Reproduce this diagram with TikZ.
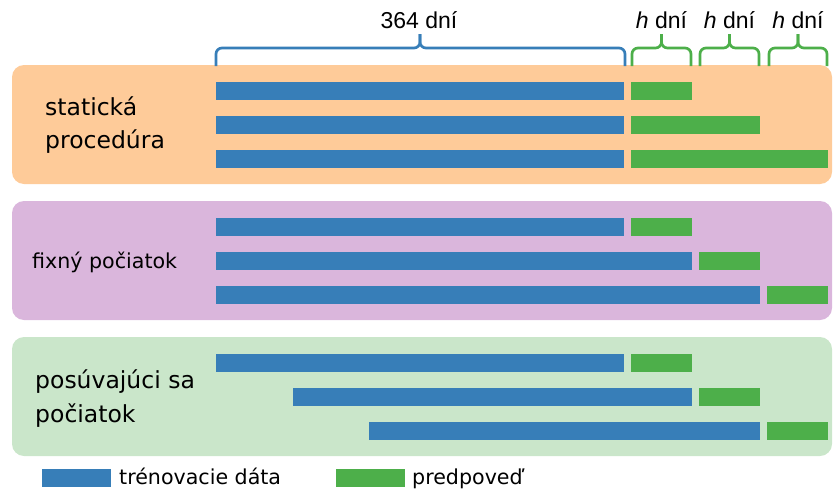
\documentclass[tikz,border=0pt]{standalone}
\usepackage{fontspec}
\setmainfont{DejaVu Sans}
\newfontfamily\arialf{Liberation Sans}
\definecolor{trainc}{HTML}{377EB8}
\definecolor{predc}{HTML}{4DAF4A}
\definecolor{panelo}{HTML}{FECB99}
\definecolor{panelp}{HTML}{DAB6DC}
\definecolor{panelg}{HTML}{CAE6CA}
\begin{document}
\begin{tikzpicture}[x=1pt,y=-1pt,
  panel/.style={rounded corners=12pt},
  train/.style={fill=trainc},
  pred/.style={fill=predc},
  lbl/.style={anchor=base west,inner sep=0pt,font=\fontsize{23.5}{28}\selectfont},
  lblsmall/.style={anchor=base west,inner sep=0pt,font=\fontsize{20.6}{24}\selectfont},
  toplbl/.style={anchor=base,inner sep=0pt,font=\arialf\fontsize{23}{26}\selectfont},
  bracec/.style={line width=2.7pt,rounded corners=6pt}]
\useasboundingbox (0,0) rectangle (833,490);

% panels
\fill[panelo,panel] (12,65) rectangle (832,184);
\fill[panelp,panel] (12,201) rectangle (832,320);
\fill[panelg,panel] (12,337) rectangle (832,456);

% braces
\draw[bracec,trainc] (216,66) -- (216,48) -- (420,48) -- (420,34);
\draw[bracec,trainc] (625,66) -- (625,48) -- (420,48) -- (420,34);
\foreach \a/\b in {632/691,700/759,769/827}{
  \pgfmathsetmacro{\m}{(\a+\b)/2}
  \draw[bracec,predc] (\a,66) -- (\a,48) -- (\m,48) -- (\m,34);
  \draw[bracec,predc] (\b,66) -- (\b,48) -- (\m,48) -- (\m,34);
}
\node[toplbl] (l364) at (419,28) {364 dní};
\node[toplbl] (lh1) at (661.5,28) {\textit{h} dní};
\node[toplbl] (lh2) at (729.5,28) {\textit{h} dní};
\node[toplbl] (lh3) at (798,28) {\textit{h} dní};

% static
\fill[train] (216,82) rectangle (624,100);  \fill[pred] (631,82) rectangle (692,100);
\fill[train] (216,116) rectangle (624,134); \fill[pred] (631,116) rectangle (760,134);
\fill[train] (216,150) rectangle (624,168); \fill[pred] (631,150) rectangle (828,168);
\node[lbl] (s1) at (45,115) {statická};
\node[lbl] (s2) at (45,148) {procedúra};

% fixed origin
\fill[train] (216,218) rectangle (624,236); \fill[pred] (631,218) rectangle (692,236);
\fill[train] (216,252) rectangle (692,270); \fill[pred] (699,252) rectangle (760,270);
\fill[train] (216,286) rectangle (760,304); \fill[pred] (767,286) rectangle (828,304);
\node[lblsmall] (f1) at (32,268) {fixný počiatok};

% rolling origin
\fill[train] (216,354) rectangle (624,372); \fill[pred] (631,354) rectangle (692,372);
\fill[train] (293,388) rectangle (692,406); \fill[pred] (699,388) rectangle (760,406);
\fill[train] (369,422) rectangle (760,440); \fill[pred] (767,422) rectangle (828,440);
\node[lbl] (r1) at (35,388) {posúvajúci sa};
\node[lbl] (r2) at (35,422) {počiatok};

% legend
\fill[train] (42,469) rectangle (111,487);
\node[lblsmall] (leg1) at (119,484) {trénovacie dáta};
\fill[pred] (336,469) rectangle (405,487);
\node[lblsmall] (leg2) at (412,484) {predpoveď};
\end{tikzpicture}
\end{document}
